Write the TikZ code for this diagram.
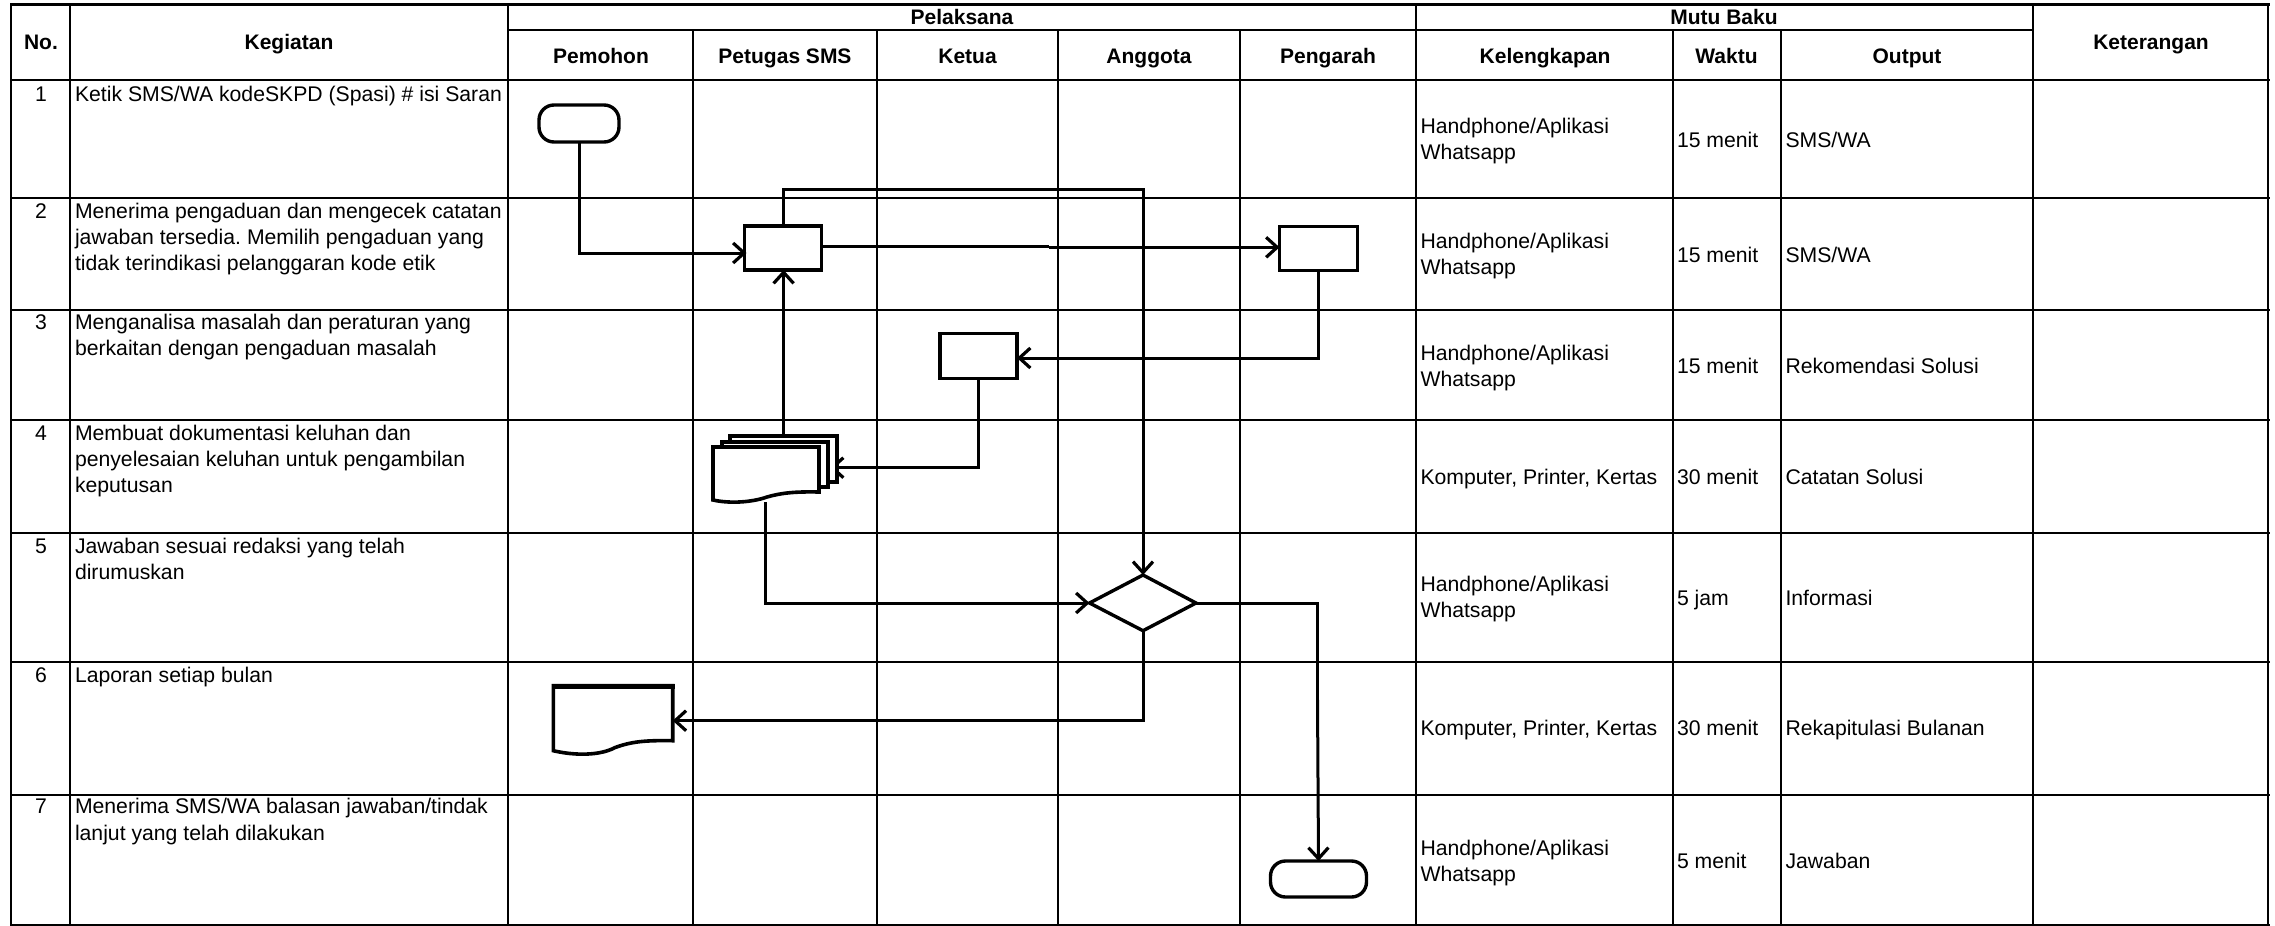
\documentclass[tikz,border=0pt]{standalone}
\usepackage{fontspec}
\setmainfont{Liberation Sans}
\frenchspacing
\usetikzlibrary{arrows.meta,calc}
\tikzset{
  vgrid/.style={line width=2pt,black},
  hgrid/.style={line width=2.4pt,black},
  txt/.style={anchor=base west,inner sep=0,outer sep=0,font=\fontsize{21.2}{25}\selectfont},
  num/.style={anchor=base,inner sep=0,outer sep=0,font=\fontsize{21.2}{25}\selectfont},
  hdr/.style={anchor=base,inner sep=0,outer sep=0,font=\fontsize{21}{25}\selectfont\bfseries},
  procbox/.style={draw,line width=3.4pt,inner sep=0,outer sep=0,fill=white},
  shp/.style={inner sep=0,outer sep=0},
  term/.style={draw,line width=3.4pt,inner sep=0,outer sep=0,fill=white,rounded corners=15pt},
  conn/.style={line width=3pt,black,line join=miter},
  arr/.style={conn,-{Straight Barb[length=11pt,width=20pt,line width=3.2pt]}},
  docline/.style={draw,line width=3.6pt,fill=white,line join=miter},
}
\begin{document}
\begin{tikzpicture}[x=1pt,y=-1pt]
\useasboundingbox (0,0) rectangle (2275,926);
\fill[white] (0,0) rectangle (2275,926);
% grid
\foreach \yy in {80,198,310,420,533,662,795}{\draw[hgrid] (10,\yy)--(2270,\yy);}
\draw[hgrid] (10,4.5)--(2270,4.5);
\draw[hgrid] (10,925)--(2270,925);
\draw[hgrid] (508,30)--(2033,30);
\foreach \xx in {11,70,508,1416,2033,2268}{\draw[vgrid] (\xx,4)--(\xx,926);}
\foreach \xx in {693,877,1058,1240,1673,1781}{\draw[vgrid] (\xx,30)--(\xx,926);}
% headers
\node[hdr] (hNo) at (41,49) {No.};
\node[hdr] (hKeg) at (289,49) {Kegiatan};
\node[hdr] (hPel) at (962,24) {Pelaksana};
\node[hdr] (hMutu) at (1724,24) {Mutu Baku};
\node[hdr] (hKet) at (2151,49) {Keterangan};
\node[hdr] (hPem) at (601,63) {Pemohon};
\node[hdr] (hPet) at (785,63) {Petugas SMS};
\node[hdr] (hKetua) at (967.5,63) {Ketua};
\node[hdr] (hAng) at (1149,63) {Anggota};
\node[hdr] (hPeng) at (1328,63) {Pengarah};
\node[hdr] (hKel) at (1545,63) {Kelengkapan};
\node[hdr] (hWak) at (1726.5,63) {Waktu};
\node[hdr] (hOut) at (1907,63) {Output};
% numbers
\node[num] (n1) at (41,101) {1};
\node[num] (n2) at (41,218) {2};
\node[num] (n3) at (41,329) {3};
\node[num] (n4) at (41,440.5) {4};
\node[num] (n5) at (41,553) {5};
\node[num] (n6) at (41,682) {6};
\node[num] (n7) at (41,813) {7};
% activities
\node[txt] (k1) at (75,101) {Ketik SMS/WA kodeSKPD (Spasi) \# isi Saran};
\node[txt] (k2a) at (75,218) {Menerima pengaduan dan mengecek catatan};
\node[txt] (k2b) at (75,244) {jawaban tersedia. Memilih pengaduan yang};
\node[txt] (k2c) at (75,270) {tidak terindikasi pelanggaran kode etik};
\node[txt] (k3a) at (75,329) {Menganalisa masalah dan peraturan yang};
\node[txt] (k3b) at (75,355) {berkaitan dengan pengaduan masalah};
\node[txt] (k4a) at (75,440.5) {Membuat dokumentasi keluhan dan};
\node[txt] (k4b) at (75,466) {penyelesaian keluhan untuk pengambilan};
\node[txt] (k4c) at (75,492) {keputusan};
\node[txt] (k5a) at (75,553) {Jawaban sesuai redaksi yang telah};
\node[txt] (k5b) at (75,579) {dirumuskan};
\node[txt] (k6) at (75,682) {Laporan setiap bulan};
\node[txt] (k7a) at (75,813) {Menerima SMS/WA balasan jawaban/tindak};
\node[txt] (k7b) at (75,840) {lanjut yang telah dilakukan};
% kelengkapan
\node[txt] (a1a) at (1420.5,133.5) {Handphone/Aplikasi};
\node[txt] (a1b) at (1420.5,159.5) {Whatsapp};
\node[txt] (a2a) at (1420.5,248.5) {Handphone/Aplikasi};
\node[txt] (a2b) at (1420.5,274.5) {Whatsapp};
\node[txt] (a3a) at (1420.5,360.5) {Handphone/Aplikasi};
\node[txt] (a3b) at (1420.5,386.5) {Whatsapp};
\node[txt] (a4) at (1420.5,484) {Komputer, Printer, Kertas};
\node[txt] (a5a) at (1420.5,591.5) {Handphone/Aplikasi};
\node[txt] (a5b) at (1420.5,617.5) {Whatsapp};
\node[txt] (a6) at (1420.5,735) {Komputer, Printer, Kertas};
\node[txt] (a7a) at (1420.5,855.5) {Handphone/Aplikasi};
\node[txt] (a7b) at (1420.5,881.5) {Whatsapp};
% waktu
\node[txt] (w1) at (1677,147) {15 menit};
\node[txt] (w2) at (1677,262) {15 menit};
\node[txt] (w3) at (1677,373.5) {15 menit};
\node[txt] (w4) at (1677,484) {30 menit};
\node[txt] (w5) at (1677,605) {5 jam};
\node[txt] (w6) at (1677,735) {30 menit};
\node[txt] (w7) at (1677,868.5) {5 menit};
% output
\node[txt] (o1) at (1785.5,147) {SMS/WA};
\node[txt] (o2) at (1785.5,262) {SMS/WA};
\node[txt] (o3) at (1785.5,373.5) {Rekomendasi Solusi};
\node[txt] (o4) at (1785.5,484) {Catatan Solusi};
\node[txt] (o5) at (1785.5,605) {Informasi};
\node[txt] (o6) at (1785.5,735) {Rekapitulasi Bulanan};
\node[txt] (o7) at (1785.5,868.5) {Jawaban};
% shapes
\node[term,minimum width=80pt,minimum height=37pt] (start) at (579,123.5) {};
\node[procbox,minimum width=77pt,minimum height=44pt] (bA) at (783,248) {};
\node[procbox,minimum width=78pt,minimum height=44pt] (bP) at (1318.5,248.5) {};
\node[procbox,minimum width=77pt,minimum height=45pt] (bK) at (978.5,356) {};
\node[term,minimum width=96pt,minimum height=36pt] (stop) at (1318.5,879) {};
% arrow that ends behind the stacked document
\coordinate (dCr) at (830,467.7);
\draw[arr] (bK.south) |- (dCr);
% stacked document
\node[shp,minimum width=107pt,minimum height=46pt] (dC) at (783.3,459) {};
\node[shp,minimum width=106pt,minimum height=45pt] (dB) at (774.8,464.5) {};
\node[shp,minimum width=106pt,minimum height=45pt] (dF) at (766,469.5) {};
\draw[docline] (dC.south west)--(dC.north west)--(dC.north east)--(dC.south east)--cycle;
\draw[docline] (dB.south west)--(dB.north west)--(dB.north east)--(dB.south east)--cycle;
\draw[docline] (dF.north west)--(dF.north east)--(dF.south east)
  .. controls ($(dF.south east)+(-25,-0.5)$) and ($(dF.south east)+(-38,1)$) .. ($(dF.south east)+(-52,5)$)
  .. controls ($(dF.south east)+(-66,10)$) and ($(dF.south east)+(-88,12)$) .. ($(dF.south west)+(0,8)$)--cycle;
% report document
\node[shp,minimum width=119.4pt,minimum height=55pt] (dR) at (613,713.2) {};
\draw[docline] (dR.north west)--(dR.north east)--(dR.south east)
  .. controls ($(dR.south east)+(-28,-0.5)$) and ($(dR.south east)+(-42,1)$) .. ($(dR.south east)+(-58,7)$)
  .. controls ($(dR.south east)+(-73,15)$) and ($(dR.south east)+(-98,15)$) .. ($(dR.south west)+(0,10)$)--cycle;
\draw[line width=5pt] ($(dR.north west)+(-1.8,0.5)$)--($(dR.north east)+(1.8,0.5)$);
% diamond: drawn from its named corners
\coordinate (dmT) at (1143,575);
\coordinate (dmL) at (1089.5,603);
\coordinate (dmR) at (1196,603);
\coordinate (dmB) at (1143,630.7);
\draw[line width=3.4pt,fill=white,line join=miter] (dmL)--(dmT)--(dmR)--(dmB)--cycle;
% connectors
\coordinate (bAw) at ($(bA.west)+(2,5)$);
\coordinate (kink) at (1049,246.3);
\coordinate (kink2) at (1049,247.3);
\draw[arr] (start.south) |- (bAw);
\draw[conn,line width=3.6pt] (bA.east |- kink) -- (kink);
\draw[arr] (kink2) -- (bP.west |- kink2);
\draw[conn] (bA.north) |- (1143,189) -- (1143,500);
\draw[arr] (1143,500) -- (dmT);
\draw[arr] (bP.south) |- ($(bK.east)+(0,2)$);
\draw[arr] (783.6,436) -- (783.6,270);
\draw[arr] (765,502) |- (dmL);
\draw[conn] (dmR) -| (1317.5,700);
\draw[arr] (1317.5,700) -- (stop.north);
\draw[arr] (dmB) |- (dR.east |- 0,720.7);
\end{tikzpicture}
\end{document}
